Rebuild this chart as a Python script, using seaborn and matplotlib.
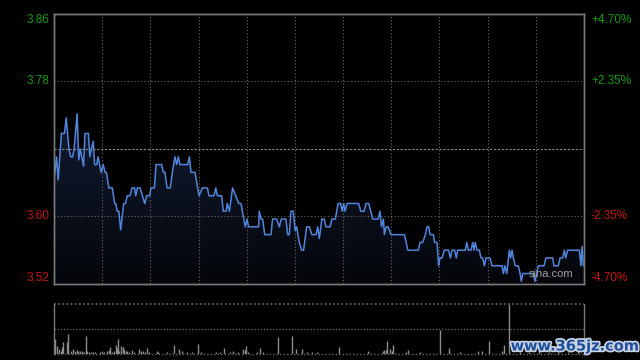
import numpy as np
import matplotlib
matplotlib.use("Agg")
import matplotlib.pyplot as plt
import matplotlib.patheffects as pe
from matplotlib.patches import Polygon
from matplotlib.colors import LinearSegmentedColormap
import seaborn as sns

# ---------------- data ----------------
prev_close = 3.69
pct_levels = [4.70, 2.35, -2.35, -4.70]
price_labels = ["3.86", "3.78", "3.60", "3.52"]
pct_labels = ["+4.70%", "+2.35%", "-2.35%", "-4.70%"]
session_minutes = 330

price_minutes = [
    0.0, 1.6, 2.6, 4.6, 6.5, 7.6, 9.3, 10.4, 11.6, 12.5, 14.4, 15.4, 16.4, 18.4,
    19.3, 21.4, 22.3, 23.3, 24.4, 25.3, 26.6, 27.4, 29.4, 30.6, 31.8, 32.6, 34.2,
    36.3, 37.8, 38.5, 39.4, 40.4, 41.5, 43.4, 44.5, 45.6, 47.3, 48.6, 50.2, 50.9,
    51.9, 53.6, 56.5, 57.7, 59.6, 60.4, 62.5, 63.5, 67.0, 68.1, 69.1, 70.4, 72.4,
    73.7, 75.3, 76.4, 77.4, 78.5, 83.2, 84.3, 85.3, 87.8, 90.3, 92.4, 95.5, 96.5,
    99.6, 100.7, 101.7, 104.4, 105.4, 107.1, 107.9, 109.2, 111.2, 113.1, 115.0,
    116.4, 119.1, 120.2, 121.2, 127.4, 127.8, 128.9, 129.9, 131.2, 135.1, 136.1,
    138.6, 140.3, 141.5, 144.4, 145.5, 146.5, 147.5, 149.0, 150.2, 151.1, 152.7,
    154.2, 155.4, 157.3, 159.0, 160.6, 163.1, 164.2, 165.2, 166.8, 168.3, 169.3,
    171.9, 173.1, 175.2, 176.9, 178.5, 179.4, 180.4, 181.2, 182.5, 189.7, 191.0,
    193.1, 194.3, 196.0, 197.2, 198.5, 201.8, 203.0, 203.9, 205.1, 205.7, 206.8,
    208.0, 209.9, 218.2, 220.3, 226.8, 227.9, 229.6, 231.2, 232.2, 233.3, 234.1,
    236.2, 237.0, 238.5, 239.5, 240.3, 241.6, 243.0, 245.7, 246.8, 247.8, 249.5,
    250.5, 251.3, 256.1, 257.0, 258.0, 259.6, 260.7, 261.5, 262.3, 263.4, 264.8,
    265.9, 266.9, 268.0, 269.0, 271.5, 272.7, 279.0, 279.8, 280.8, 281.9, 283.5,
    284.3, 285.2, 286.0, 287.2, 289.1, 290.2, 291.0, 291.8, 298.5, 299.5, 301.6,
    305.1, 306.3, 310.5, 311.3, 314.0, 315.1, 316.7, 317.8, 318.6, 319.8, 327.1,
    328.1, 328.8, 329.6,
]
price_values = [
    3.65, 3.68, 3.65, 3.71, 3.71, 3.73, 3.69, 3.68, 3.68, 3.69, 3.735, 3.676, 3.69, 3.668,
    3.71, 3.71, 3.68, 3.69, 3.70, 3.67, 3.67, 3.68, 3.66, 3.67, 3.66, 3.66, 3.64,
    3.64, 3.62, 3.62, 3.61, 3.61, 3.586, 3.62, 3.62, 3.63, 3.63, 3.64, 3.64, 3.63,
    3.64, 3.64, 3.62, 3.63, 3.63, 3.64, 3.64, 3.67, 3.67, 3.66, 3.66, 3.64, 3.64,
    3.66, 3.68, 3.67, 3.68, 3.67, 3.67, 3.68, 3.66, 3.66, 3.63, 3.64, 3.64, 3.63,
    3.63, 3.64, 3.63, 3.63, 3.61, 3.61, 3.62, 3.61, 3.64, 3.63, 3.62,
    3.62, 3.59, 3.60, 3.59, 3.59, 3.61, 3.60, 3.60, 3.58, 3.58, 3.60,
    3.60, 3.59, 3.60, 3.60, 3.58, 3.58, 3.61, 3.61, 3.585, 3.59, 3.57,
    3.56, 3.56, 3.59, 3.59, 3.58, 3.58, 3.59, 3.575, 3.60, 3.60, 3.59,
    3.59, 3.60, 3.60, 3.62, 3.62, 3.61, 3.62, 3.61, 3.62, 3.62, 3.61,
    3.61, 3.62, 3.62, 3.61, 3.60, 3.60, 3.61, 3.59, 3.60, 3.58, 3.59,
    3.59, 3.58, 3.58, 3.56, 3.56, 3.57, 3.57, 3.58, 3.59, 3.59, 3.58,
    3.58, 3.57, 3.57, 3.54, 3.55, 3.55, 3.56, 3.56, 3.55, 3.56, 3.56,
    3.55, 3.56, 3.56, 3.57, 3.56, 3.56, 3.57, 3.56, 3.57, 3.56, 3.56,
    3.55, 3.55, 3.54, 3.55, 3.55, 3.54, 3.54, 3.53, 3.54, 3.53, 3.56,
    3.55, 3.56, 3.55, 3.54, 3.54, 3.53, 3.52, 3.53, 3.53, 3.52, 3.54,
    3.54, 3.55, 3.55, 3.54, 3.54, 3.55, 3.55, 3.56, 3.55, 3.56, 3.56,
    3.54, 3.565, 3.54,
]

vol_minutes = [
    0.6, 2.1, 3.3, 4.2, 5.2, 5.8, 8.3, 8.9, 10.4, 12.0, 13.1, 14.1, 15.1, 16.2, 17.2,
    18.9, 20.1, 20.7, 22.0, 23.2, 24.5, 25.7, 28.6, 29.7, 31.3, 33.2, 34.2, 35.1,
    36.3, 37.4, 38.6, 39.4, 40.0, 40.7, 41.9, 43.0, 43.8, 44.8, 45.6, 46.9, 48.8,
    49.8, 53.1, 54.4, 55.6, 56.9, 58.1, 59.3, 63.9, 64.9, 70.2, 74.7, 78.0, 79.9,
    83.0, 86.1, 89.9, 91.5, 100.9, 103.4, 106.1, 109.6, 111.7, 114.8, 117.9, 118.7,
    119.7, 121.0, 126.2, 128.5, 130.4, 139.7, 148.4, 150.7, 154.4, 157.3, 160.4,
    163.6, 177.7, 195.7, 204.7, 205.5, 206.5, 207.5, 209.2, 210.3, 210.9, 219.2,
    220.6, 227.9, 240.3, 246.1, 252.8, 264.2, 266.3, 271.0, 278.8, 280.2, 283.5,
    290.0, 296.0, 302.0, 308.0, 314.0, 320.0, 326.0,
]
vol_values = [
    15.3, 7.7, 5.0, 3.3, 7.0, 11.7, 11.7, 20.3, 2.7, 5.3, 2.7, 4.3, 3.3, 3.3, 3.3,
    1.7, 18.3, 3.3, 1.7, 2.3, 1.7, 2.3, 1.7, 2.7, 1.7, 3.3, 4.3, 6.7,
    2.3, 2.7, 9.3, 6.0, 15.3, 2.7, 8.3, 7.0, 5.3, 3.3, 3.3, 1.7, 4.3,
    1.7, 5.3, 2.7, 3.3, 2.3, 6.0, 1.7, 3.3, 2.3, 1.7, 9.3, 5.3, 3.3,
    1.7, 1.7, 10.3, 1.7, 2.3, 1.7, 6.0, 2.3, 3.3, 2.3, 5.3, 4.3,
    7.7, 1.7, 1.7, 6.0, 1.7, 16.7, 18.3, 5.3, 5.3, 2.3, 1.7,
    1.7, 6.7, 3.3, 3.3, 4.3, 4.3, 12.7, 5.0, 3.3, 9.3, 2.3,
    4.3, 2.3, 24.3, 6.0, 2.3, 3.3, 3.3, 12.7, 3.3, 9.3, 50.0,
    2.0, 1.7, 3.0, 2.0, 2.5, 2.0, 3.0,
]

# ---------------- style ----------------
sns.set_theme(style="dark", rc={
    "figure.facecolor": "black",
    "axes.facecolor": "black",
    "savefig.facecolor": "black",
})
plt.rcParams["font.family"] = ["Liberation Sans", "DejaVu Sans"]

GRID = "#6a6a6a"
SPINE = "#7a7a7a"
LINE = "#4f86dc"
GREEN = "#0e9e0e"
RED = "#cc1111"

fig = plt.figure(figsize=(6.4, 3.6), dpi=100)
ax = fig.add_axes([54 / 640, 1 - 284 / 360, 530 / 640, 270 / 360])
axv = fig.add_axes([54 / 640, 1 - 354 / 360, 530 / 640, 50 / 360])

ymin = prev_close * (1 - 0.047)
ymax = prev_close * (1 + 0.047)

# gradient fill under price line
verts = [(price_minutes[0], ymin)] + list(zip(price_minutes, price_values)) + [(price_minutes[-1], ymin)]
poly = Polygon(verts, closed=True, facecolor="none", edgecolor="none")
ax.add_patch(poly)
cmap = LinearSegmentedColormap.from_list("fillgrad", ["#04060b", "#111b31"])
grad = np.linspace(1, 0, 256).reshape(-1, 1)
im = ax.imshow(grad, extent=[0, session_minutes, ymin, max(price_values)],
               aspect="auto", cmap=cmap, origin="upper", zorder=1)
im.set_clip_path(poly)

sns.lineplot(x=price_minutes, y=price_values, ax=ax, color=LINE, linewidth=1.1,
             estimator=None, sort=False, zorder=3)

ax.set_xlim(0, session_minutes)
ax.set_ylim(ymin, ymax)

# grid
for m in range(30, session_minutes, 30):
    ax.axvline(m, color=GRID, lw=0.8, ls=(0, (1, 2)), zorder=2)
for p in [2.35, -2.35]:
    ax.axhline(prev_close * (1 + p / 100), color=GRID, lw=0.8, ls=(0, (1, 2)), zorder=2)
ax.axhline(prev_close, color="#8a8a8a", lw=0.8, ls=(0, (2, 1.5)), zorder=2)

# ticks / labels
tick_prices = [prev_close * (1 + p / 100) for p in pct_levels]
ax.set_xticks([])
ax.set_yticks(tick_prices)
ax.set_yticklabels(price_labels)
ax.tick_params(axis="y", length=0, pad=3, labelsize=8.5)
colors = [GREEN, GREEN, RED, RED]
vas = ["top", "center", "center", "bottom"]
for lab, c, va in zip(ax.get_yticklabels(), colors, vas):
    lab.set_color(c)
    lab.set_verticalalignment(va)

axr = ax.twinx()
axr.set_ylim(ymin, ymax)
axr.set_yticks(tick_prices)
axr.set_yticklabels(pct_labels)
axr.tick_params(axis="y", length=0, pad=5, labelsize=8.5)
for lab, c, va in zip(axr.get_yticklabels(), colors, vas):
    lab.set_color(c)
    lab.set_verticalalignment(va)
axr.grid(False)
ax.grid(False)

for a in (ax, axr):
    for s in a.spines.values():
        s.set_color(SPINE)
        s.set_linewidth(1.0)

ax.text(0.938, 0.018, "sina.com", transform=ax.transAxes, ha="center", va="bottom",
        color="#a0a0a0", fontsize=8, zorder=5)

# volume panel
axv.vlines(vol_minutes, 0, vol_values, color="#8c8c8c", lw=1.0)
vmax = max(vol_values)
axv.set_xlim(0, session_minutes)
axv.set_ylim(0, vmax)
axv.set_xticks([])
axv.set_yticks([])
axv.grid(False)
axv.axhline(vmax * 0.5, color=GRID, lw=0.9, ls=(0, (1, 1.5)))
axv.axhline(vmax, color=GRID, lw=1.2, ls=(0, (1, 1.5)), clip_on=False)
axv.axhline(0, color=GRID, lw=1.0, ls=(0, (1, 1.5)), clip_on=False)
axv.spines["top"].set_visible(False)
axv.spines["bottom"].set_visible(False)
for k in ("left", "right"):
    axv.spines[k].set_color(SPINE)
    axv.spines[k].set_linewidth(1.0)

fig.text(575 / 640, 1 - 346 / 360, "www.365jz.com", ha="center", va="center",
         fontsize=10.5, fontweight="bold", color="#1d4f9e", family="DejaVu Sans",
         path_effects=[pe.withStroke(linewidth=2.5, foreground="#c9d2e3")])

fig.savefig("out.png", dpi=100, facecolor="black")
